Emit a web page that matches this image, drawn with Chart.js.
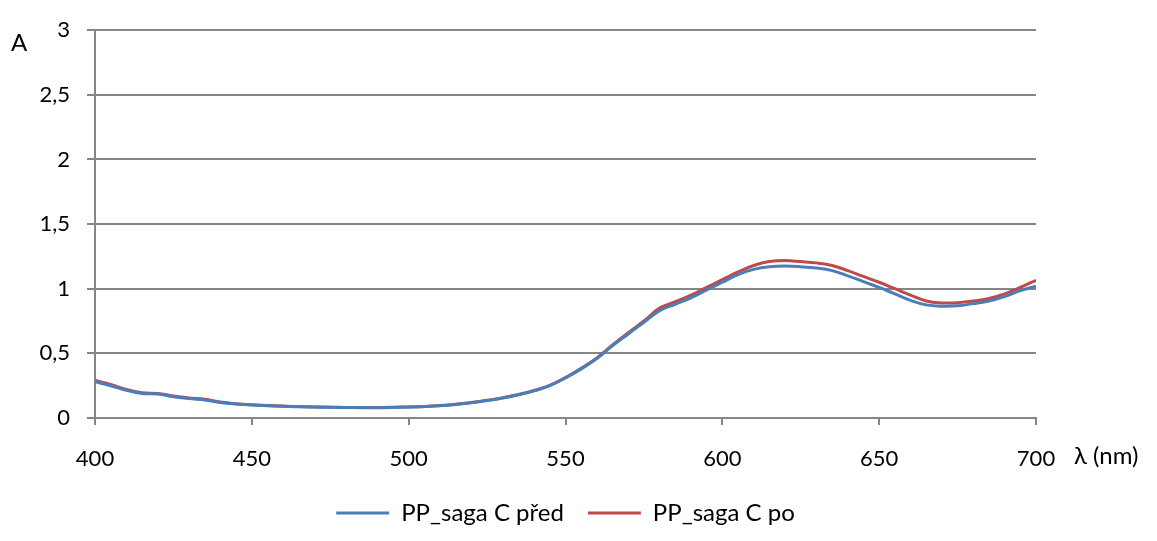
<!DOCTYPE html>
<html>
<head>
<meta charset="utf-8">
<script src="https://cdn.jsdelivr.net/npm/chart.js@4/dist/chart.umd.min.js"></script>
<style>
  html, body { margin: 0; padding: 0; background: #fff; }
  #wrap { width: 1157px; height: 541px; }
</style>
</head>
<body>
<div id="wrap"><canvas id="spectrum" width="1157" height="541"></canvas></div>
<script>
// wavelengths (nm), 5 nm step
const wavelengths = [400,405,410,415,420,425,430,435,440,445,450,455,460,465,470,475,480,485,490,495,
  500,505,510,515,520,525,530,535,540,545,550,555,560,565,570,575,580,585,590,595,
  600,605,610,615,620,625,630,635,640,645,650,655,660,665,670,675,680,685,690,695,700];

// absorbance before treatment
const pred = [0.28,0.25,0.215,0.19,0.185,0.165,0.15,0.14,0.12,0.108,0.1,0.095,0.09,0.087,0.085,0.083,0.081,0.08,0.08,0.082,
  0.085,0.088,0.095,0.105,0.118,0.135,0.155,0.18,0.21,0.25,0.31,0.38,0.46,0.56,0.65,0.74,0.83,0.88,0.93,0.99,
  1.05,1.11,1.15,1.17,1.175,1.17,1.16,1.14,1.1,1.055,1.01,0.96,0.91,0.875,0.865,0.868,0.885,0.905,0.94,0.985,1.02];

// absorbance after treatment
const po = [0.29,0.26,0.22,0.195,0.19,0.17,0.155,0.145,0.123,0.11,0.102,0.097,0.092,0.088,0.086,0.084,0.082,0.081,0.081,0.083,
  0.086,0.089,0.096,0.106,0.12,0.137,0.157,0.182,0.213,0.253,0.313,0.385,0.465,0.565,0.66,0.75,0.85,0.9,0.95,1.01,
  1.07,1.13,1.18,1.21,1.218,1.21,1.2,1.18,1.14,1.095,1.05,1.0,0.95,0.905,0.89,0.892,0.905,0.925,0.96,1.01,1.065];

const yTicks = [0, 0.5, 1, 1.5, 2, 2.5, 3];
const xTicks = [400, 450, 500, 550, 600, 650, 700];

const FONT = 'Lato, "Liberation Sans", sans-serif';
const GRID = '#868686';

// axis captions drawn as plain text like in the spreadsheet chart
const captions = {
  id: 'captions',
  afterDraw(chart) {
    const c = chart.ctx;
    c.save();
    c.fillStyle = '#000';
    c.font = '24px ' + FONT;
    c.textBaseline = 'middle';
    c.textAlign = 'left';
    c.fillText('A', 11, 43);
    c.fillText('λ (nm)', 1074, 456);
    c.restore();
  }
};

const pts = ys => wavelengths.map((x, i) => ({ x: x, y: ys[i] }));

new Chart(document.getElementById('spectrum'), {
  type: 'line',
  data: {
    datasets: [
      { label: 'PP_saga C před', data: pts(pred), borderColor: '#4a7ebb', backgroundColor: '#4a7ebb',
        borderWidth: 3, pointRadius: 0, tension: 0.4 },
      { label: 'PP_saga C po', data: pts(po), borderColor: '#be4b48', backgroundColor: '#be4b48',
        borderWidth: 3, pointRadius: 0, tension: 0.4 }
    ]
  },
  options: {
    responsive: false,
    animation: false,
    layout: { padding: { left: 0, right: 121, top: 22, bottom: 6 } },
    scales: {
      x: {
        type: 'linear', min: 400, max: 700,
        afterBuildTicks: s => { s.ticks = xTicks.map(v => ({ value: v })); },
        afterFit: s => { s.height = 59; },
        grid: { drawOnChartArea: false, color: GRID, tickLength: 7, lineWidth: 2 },
        border: { color: GRID, width: 2 },
        ticks: { color: '#000', font: { family: FONT, size: 22 }, padding: 21, maxRotation: 0 }
      },
      y: {
        min: 0, max: 3,
        afterBuildTicks: s => { s.ticks = yTicks.map(v => ({ value: v })); },
        afterFit: s => { s.width = 95; },
        grid: { color: GRID, tickLength: 8, lineWidth: 2 },
        border: { color: GRID, width: 2 },
        ticks: { color: '#000', font: { family: FONT, size: 22 }, padding: 17,
          callback: v => String(v).replace('.', ',') }
      }
    },
    plugins: {
      legend: {
        position: 'bottom',
        fullSize: false,
        labels: { color: '#000', font: { family: FONT, size: 24 }, usePointStyle: true,
          pointStyle: 'line', pointStyleWidth: 53, padding: 24 }
      },
      tooltip: { enabled: false }
    }
  },
  plugins: [captions]
});
</script>
</body>
</html>
